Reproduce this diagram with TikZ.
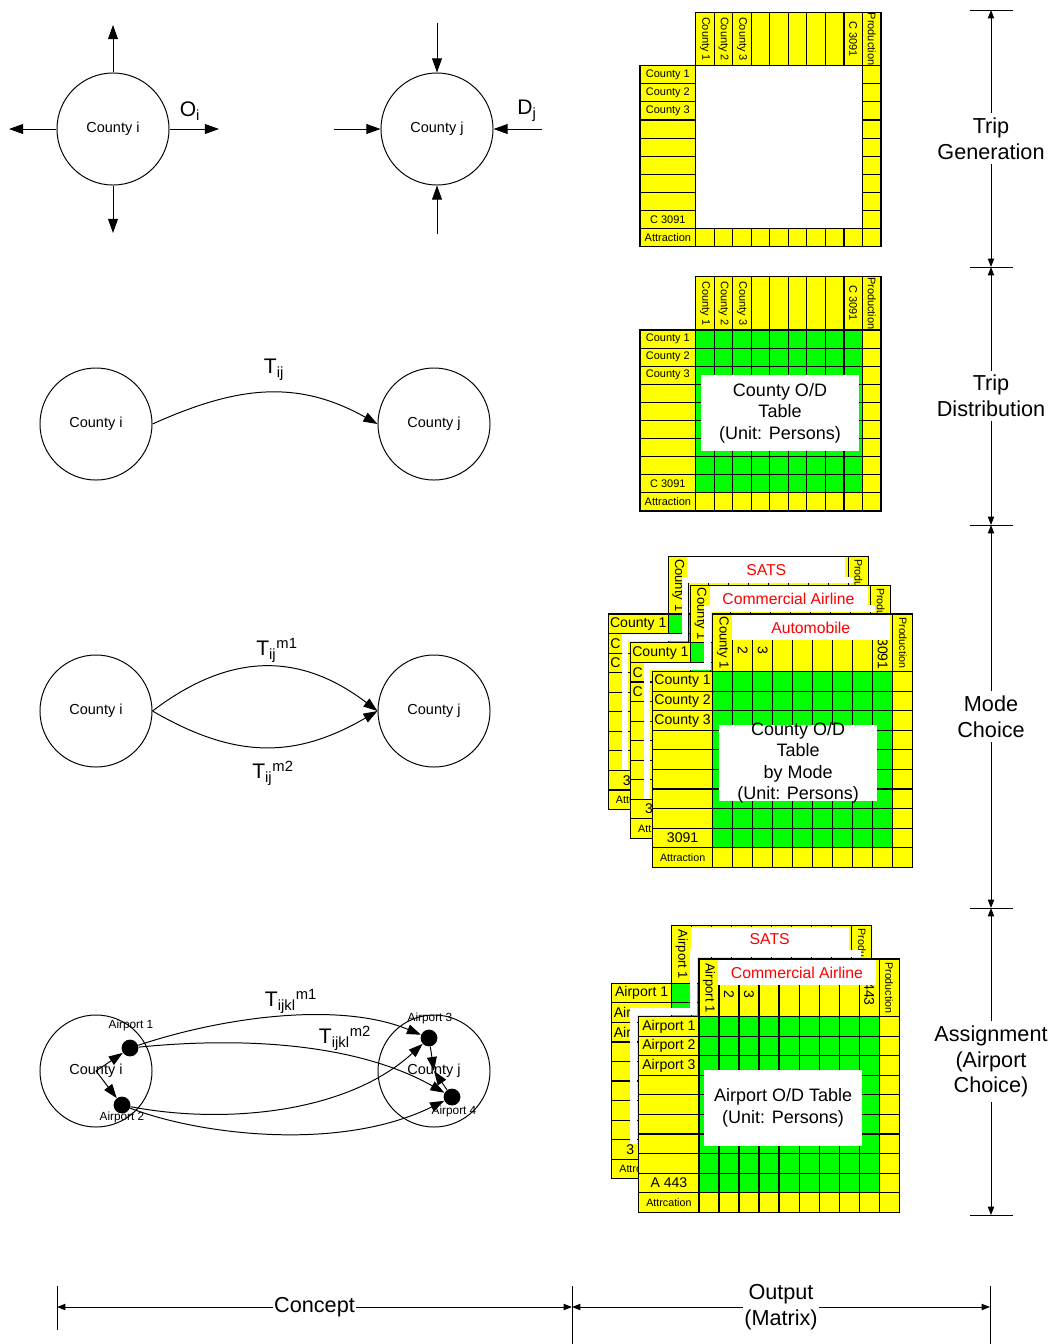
\documentclass[tikz,border=0pt]{standalone}
\usepackage{fontspec}
\setmainfont{Liberation Sans}
\usetikzlibrary{arrows.meta,positioning}
\definecolor{CellYellow}{HTML}{FFFF00}
\definecolor{CellGreen}{HTML}{00FF00}
\definecolor{ModeRed}{HTML}{FF0000}

% O/D matrix geometry, in reference pixels before scaling
\newcommand{\odlw}{55.7}
\newcommand{\odcw}{18.53}
\newcommand{\odhh}{53.4}
\newcommand{\odrh}{18.1}

\newcommand{\odframe}{%
  \foreach \i in {0,...,9}
    \draw[odcell] (\i*\odcw,-\odhh) rectangle ++(\odcw,\odhh);
  \foreach \j in {0,...,9}{
    \draw[odcell] (-\odlw,\j*\odrh) rectangle ++(\odlw,\odrh);
    \draw[odcell] (9*\odcw,\j*\odrh) rectangle ++(\odcw,\odrh);
  }
  \foreach \i in {0,...,8}
    \draw[odcell] (\i*\odcw,9*\odrh) rectangle ++(\odcw,\odrh);
}
\newcommand{\odinner}{%
  \foreach \i in {0,...,8}
    \foreach \j in {0,...,8}
      \draw[odcell, fill=CellGreen] (\i*\odcw,\j*\odrh) rectangle ++(\odcw,\odrh);
}
\newcommand{\odcols}[2]{%
  \foreach \i/\lab in {#2}
    \node[#1, rotate=-90] at (\i*\odcw+0.5*\odcw,-0.5*\odhh) {\lab};
}
\newcommand{\odrows}[2]{%
  \foreach \j/\lab in {#2}
    \node[#1] at (-0.5*\odlw,\j*\odrh+0.5*\odrh) {\lab};
}
% what still shows of a table lying behind another one
\newcommand{\odback}[3]{%
  \odcols{cellhead}{0/#1}
  \node[celltiny, rotate=-90, anchor=west] at (9.5*\odcw,-\odhh+2.4) {Produ};
  \odrows{cellbig}{0/#1}
  \node[cellbig, anchor=west] at (-53.9,1.5*\odrh) {#2};
  \node[cellbig, anchor=west] at (-53.9,2.5*\odrh) {#2};
  \node[cellbig, anchor=west] at (-42.3,8.5*\odrh) {3};
  \node[celltiny, anchor=west] at (-48.7,9.5*\odrh) {#3};
}
\newcommand{\odmode}[1]{%
  \fill[white] (17.6,-\odhh+0.9) rectangle (163.9,-\odhh+24);
  \node[modelab] at (90.7,-\odhh+12.5) {#1};
}
\newcommand{\odgap}{%
  \draw[whitegap] (-\odlw-5,118) -- (-\odlw-5,-5) -- (-5,-5) -- (-5,-\odhh-5) -- (150,-\odhh-5);
}

\begin{document}
\begin{tikzpicture}[x=0.025cm, y=-0.025cm,
  county/.style={circle, draw, line width=0.7pt, minimum size=2.8cm, inner sep=0pt, font=\fontsize{10.3}{12}\selectfont},
  port/.style={circle, fill=black, minimum size=0.42cm, inner sep=0pt},
  portlab/.style={font=\fontsize{8.4}{10}\selectfont, inner sep=0pt},
  sym/.style={font=\fontsize{15}{18}\selectfont, inner sep=0pt},
  flow/.style={-{Triangle[length=10pt,width=7pt]}, line width=0.7pt},
  dimline/.style={{Triangle[length=6pt,width=4.5pt]}-{Triangle[length=6pt,width=4.5pt]}, line width=0.7pt},
  stagetick/.style={line width=0.6pt},
  stage/.style={fill=white, align=center, inner xsep=1pt, inner ysep=3pt, font=\fontsize{15.4}{18.3}\selectfont},
  odcell/.style={draw=black, fill=CellYellow, line width=0.8pt},
  whitegap/.style={draw=white, line width=4.6pt},
  cellsmall/.style={font=\fontsize{7.8}{9}\selectfont, inner sep=0pt},
  celltiny/.style={font=\fontsize{7.6}{9}\selectfont, inner sep=0pt},
  cellbig/.style={font=\fontsize{10}{12}\selectfont, inner sep=0pt},
  cellhead/.style={font=\fontsize{9.3}{11}\selectfont, inner sep=0pt},
  odtext/.style={font=\fontsize{12.8}{15.3}\selectfont, align=center, inner sep=0pt},
  modelab/.style={font=\fontsize{11.2}{13}\selectfont, text=ModeRed, inner sep=0pt}]
  \fill[white] (0,0) rectangle (1058,1344);
  \useasboundingbox (0,0) rectangle (1058,1344);

  % trip generation
  \node[county] (gi) at (113,129) {County i};
  \node[county] (gj) at (437,129) {County j};
  \coordinate (gi-n) at (113,25);
  \coordinate (gi-s) at (113,233);
  \coordinate (gi-w) at (9,129);
  \coordinate (gi-e) at (219,129);
  \coordinate (gj-n) at (437,23);
  \coordinate (gj-s) at (437,234);
  \coordinate (gj-w) at (334,129);
  \coordinate (gj-e) at (542,129);
  \foreach \d in {n,s,w,e}{
    \draw[flow] (gi) -- (gi-\d);
    \draw[flow] (gj-\d) -- (gj);
  }
  \node[sym] at (190,111) {O\textsubscript{i}};
  \node[sym] at (527,111) {D\textsubscript{j}};

  % trip distribution
  \node[county] (di) at (96,424) {County i};
  \node[county] (dj) at (434,424) {County j};
  \draw[flow] (di.east) .. controls (237,386) and (297,379) .. (dj.west);
  \node[sym] at (274,370) {T\textsubscript{ij}};

  % mode choice
  \node[county] (mi) at (96,711) {County i};
  \node[county] (mj) at (434,711) {County j};
  \draw[flow] (mi.east) .. controls (230,652) and (300,652) .. (mj.west);
  \draw[flow] (mi.east) .. controls (235,759) and (295,759) .. (mj.west);
  \node[sym] at (277,650) {T\textsubscript{ij}\textsuperscript{m1}};
  \node[sym] at (273,773) {T\textsubscript{ij}\textsuperscript{m2}};

  % assignment (airport choice)
  \node[county] (ai) at (96,1071) {County i};
  \node[county] (aj) at (434,1071) {County j};
  \node[port] (p1) at (130,1048) {};
  \node[port] (p2) at (122,1105) {};
  \node[port] (p3) at (429,1038) {};
  \node[port] (p4) at (452,1097) {};
  \node[portlab] at (131,1025) {Airport 1};
  \node[portlab] at (122,1117) {Airport 2};
  \node[portlab] at (430,1018) {Airport 3};
  \node[portlab] at (454,1111) {Airport 4};
  \draw[flow] (ai.center) -- (p1);
  \draw[flow] (ai.center) -- (p2);
  \draw[flow] (p3) -- (aj.center);
  \draw[flow] (p4) -- (aj.center);
  \draw[flow] (p1) .. controls (223,1017) and (339,1001) .. (p3);
  \draw[flow] (p1) .. controls (250,1036) and (360,1045) .. (p4);
  \draw[flow] (p2) .. controls (220,1124) and (345,1115) .. (p3);
  \draw[flow] (p2) .. controls (200,1135) and (340,1152) .. (p4);
  \node[sym] at (291,1001) {T\textsubscript{ijkl}\textsuperscript{m1}};
  \node[sym] at (345,1038) {T\textsubscript{ijkl}\textsuperscript{m2}};

  % output matrices
  \begin{scope}[shift={(695.7,65.7)}]
    \odframe
    \odcols{cellsmall}{0/County 1,1/County 2,2/County 3,8/C 3091,9/Production}
    \odrows{cellsmall}{0/County 1,1/County 2,2/County 3,8/C 3091,9/Attraction}
  \end{scope}

  \begin{scope}[shift={(695.7,330)}]
    \odframe
    \odinner
    \odcols{cellsmall}{0/County 1,1/County 2,2/County 3,8/C 3091,9/Production}
    \odrows{cellsmall}{0/County 1,1/County 2,2/County 3,8/C 3091,9/Attraction}
    \fill[white] (5.3,45) rectangle (163.3,120.7);
    \node[odtext] at (84.3,82.9) {County O/D\\Table\\(Unit: Persons)};
  \end{scope}

  \begin{scope}[shift={(668.3,614)}, scale=1.08]
    \odframe
    \odinner
    \odback{County 1}{C}{Attr}
    \odmode{SATS}
  \end{scope}

  \begin{scope}[shift={(690.5,642.9)}, scale=1.08]
    \odgap
    \odframe
    \odinner
    \odback{County 1}{C}{Attr}
    \odmode{Commercial Airline}
  \end{scope}

  \begin{scope}[shift={(712.7,671.7)}, scale=1.08]
    \odgap
    \odframe
    \odinner
    \odcols{cellhead}{0/County 1}
    \odcols{celltiny}{9/Production}
    \node[cellbig, rotate=-90] at (1.5*\odcw,-20) {2};
    \node[cellbig, rotate=-90] at (2.5*\odcw,-20) {3};
    \node[cellbig, rotate=-90] at (8.5*\odcw,-16.4) {3091};
    \odrows{cellbig}{0/County 1,1/County 2,2/County 3,8/3091}
    \odrows{celltiny}{9/Attraction}
    \odmode{Automobile}
    \fill[white] (5.8,49.4) rectangle (152.4,119.7);
    \node[odtext] at (79.1,84.5) {County O/D\\Table\\by Mode\\(Unit: Persons)};
  \end{scope}

  \begin{scope}[shift={(671.7,983.3)}, scale=1.08]
    \odframe
    \odinner
    \odback{Airport 1}{Air}{Attrc}
    \odmode{SATS}
  \end{scope}

  \begin{scope}[shift={(699,1016.7)}, scale=1.08]
    \odgap
    \odframe
    \odinner
    \odcols{cellhead}{0/Airport 1}
    \odcols{celltiny}{9/Production}
    \node[cellbig, rotate=-90] at (1.5*\odcw,-21) {2};
    \node[cellbig, rotate=-90] at (2.5*\odcw,-21) {3};
    \node[cellbig, rotate=-90] at (8.5*\odcw,-21) {443};
    \odrows{cellbig}{0/Airport 1,1/Airport 2,2/Airport 3,8/A 443}
    \odrows{celltiny}{9/Attrcation}
    \odmode{Commercial Airline}
    \fill[white] (4.9,49.4) rectangle (150.6,119.4);
    \node[odtext] at (77.8,84.4) {Airport O/D Table\\(Unit: Persons)};
  \end{scope}

  % stages
  \foreach \y in {10,267,525,908,1215}
    \draw[stagetick] (970,\y) -- (1013,\y);
  \coordinate (s0) at (991,10);
  \coordinate (s1) at (991,267);
  \coordinate (s2) at (991,525);
  \coordinate (s3) at (991,908);
  \coordinate (s4) at (991,1215);
  \draw[dimline] (s0) -- node[stage] {Trip\\Generation} (s1);
  \draw[dimline] (s1) -- node[stage] {Trip\\Distribution} (s2);
  \draw[dimline] (s2) -- node[stage] {Mode\\Choice} (s3);
  \draw[dimline] (s3) -- node[stage] {Assignment\\(Airport\\Choice)} (s4);

  % columns
  \draw[stagetick] (57,1286) -- (57,1330);
  \draw[stagetick] (572,1286) -- (572,1344);
  \draw[stagetick] (990,1286) -- (990,1344);
  \coordinate (c0) at (57,1307);
  \coordinate (c1) at (572,1307);
  \coordinate (c2) at (990,1307);
  \draw[dimline] (c0) -- node[stage, inner ysep=1pt] {Concept} (c1);
  \draw[dimline] (c1) -- node[stage, inner ysep=1pt] {Output\\(Matrix)} (c2);
\end{tikzpicture}
\end{document}
